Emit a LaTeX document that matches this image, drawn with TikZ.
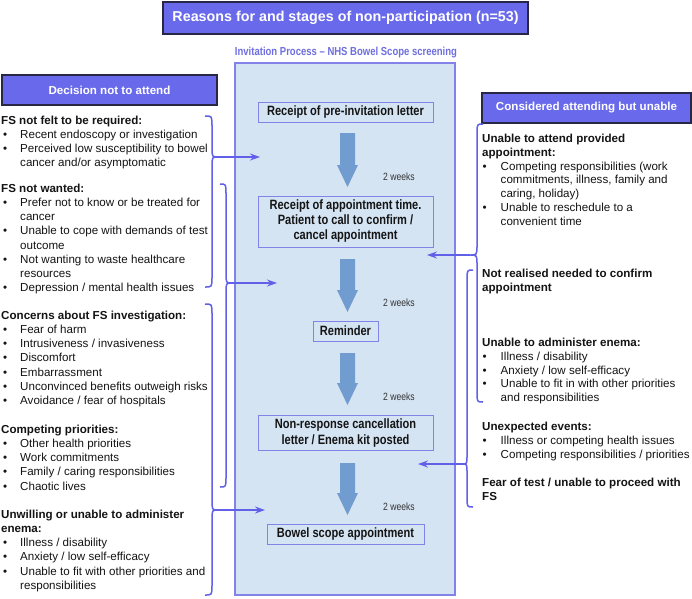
\documentclass[tikz,border=0pt]{standalone}
\usepackage{fontspec}
\setmainfont{Liberation Sans}
\newfontfamily\narrowfont[FakeStretch=0.82,Ligatures=TeX]{Liberation Sans}
\usetikzlibrary{arrows.meta}
\definecolor{headfill}{RGB}{105,105,236}
\definecolor{headdraw}{RGB}{40,40,70}
\definecolor{panelfill}{RGB}{213,228,243}
\definecolor{paneldraw}{RGB}{130,130,232}
\definecolor{blockfill}{RGB}{112,156,208}
\definecolor{linkcol}{RGB}{96,96,232}
\definecolor{capcol}{RGB}{110,110,224}
\definecolor{txt}{RGB}{20,20,20}
\newcommand\bulL{\makebox[19pt][l]{\hspace{2pt}•}}
\newcommand\indL{\makebox[19pt]{}}
\newcommand\bulR{\makebox[18.5pt][l]{\hspace{0.5pt}•}}
\newcommand\indR{\makebox[18.5pt]{}}
\newcommand\fstrut{\rule{0pt}{10pt}}
\newcommand\drawbrace[6]{% x0 xm xt yt ym yb
  \draw[bracel] (#1,#4) .. controls (#2,#4) .. (#2,{#4+10}) -- (#2,{#5-10})
    .. controls (#2,#5) .. (#3,#5) .. controls (#2,#5) .. (#2,{#5+10})
    -- (#2,{#6-10}) .. controls (#2,#6) .. (#1,#6);}
\newcommand\blockarrow[3]{% x ytop ytip
  \fill[blockfill] ({#1-7.5},#2) -- ({#1+7.5},#2) -- ({#1+7.5},{#3-22})
    -- ({#1+10.5},{#3-22}) -- (#1,#3) -- ({#1-10.5},{#3-22})
    -- ({#1-7.5},{#3-22}) -- cycle;}
\tikzset{
  headbox/.style={draw=headdraw, line width=1.2pt, fill=headfill, text=white,
    inner sep=0pt, font=\bfseries\fontsize{11.6}{14}\selectfont},
  stagebox/.style={draw=paneldraw, line width=1pt, fill=panelfill, inner sep=0pt,
    align=center, text=txt, font=\narrowfont\bfseries\fontsize{13.5}{15}\selectfont},
  grp/.style={anchor=north west, inner sep=0pt, align=left, text=txt,
    font=\fontsize{11.6}{14.2}\selectfont},
  grpr/.style={grp, font=\fontsize{11.6}{13.9}\selectfont},
  weeks/.style={anchor=west, inner sep=0pt, text=black!80,
    font=\narrowfont\fontsize{10.5}{12}\selectfont},
  link/.style={draw=linkcol, line width=1.5pt, -{Stealth[length=10pt,width=7pt]}},
  bracel/.style={draw=linkcol, line width=1.5pt},
}
\begin{document}
\begin{tikzpicture}[x=1pt,y=-1pt]
\useasboundingbox (0,0) rectangle (692,598);
\fill[white] (0,0) rectangle (692,598);

% title
\node[headbox, font=\bfseries\fontsize{14.3}{16}\selectfont,
  minimum width=365pt, minimum height=32pt] (title) at (345.5,18)
  {Reasons for and stages of non-participation (n=53)};

% panel
\node[draw=paneldraw, fill=panelfill, line width=1.5pt, inner sep=0pt,
  minimum width=220pt, minimum height=532pt] (panel) at (345,329) {};
\node[inner sep=0pt, text=capcol, font=\narrowfont\bfseries\fontsize{11.6}{14}\selectfont]
  (caption) at (346,53) {Invitation Process – NHS Bowel Scope screening};

% stages
\node[stagebox, minimum width=175pt, minimum height=20pt] (s1) at (345.5,112)
  {Receipt of pre-invitation letter};
\node[stagebox, minimum width=175pt, minimum height=51pt] (s2) at (345.5,221.5)
  {Receipt of appointment time.\\Patient to call to confirm /\\cancel appointment};
\node[stagebox, minimum width=65pt, minimum height=20pt] (s3) at (345.5,331)
  {Reminder};
\node[stagebox, font=\narrowfont\bfseries\fontsize{13.5}{16}\selectfont,
  minimum width=175pt, minimum height=35pt] (s4) at (345.5,432.5)
  {Non-response cancellation\\letter / Enema kit posted};
\node[stagebox, minimum width=157pt, minimum height=20pt] (s5) at (345.5,534)
  {Bowel scope appointment};

% block arrows
\blockarrow{347.5}{133}{187}
\blockarrow{347.5}{259}{312}
\blockarrow{347.5}{353}{405}
\blockarrow{347.5}{463}{515}
\node[weeks] (w1) at (383,177) {2 weeks};
\node[weeks] (w2) at (383,303) {2 weeks};
\node[weeks] (w3) at (383,397) {2 weeks};
\node[weeks] (w4) at (383,507) {2 weeks};

% headers
\node[headbox, minimum width=215pt, minimum height=30pt] (hleft) at (109.5,90)
  {Decision not to attend};
\node[headbox, minimum width=209pt, minimum height=30pt] (hright) at (586.5,108)
  {Considered attending but unable};

% left groups
\node[grp] (g1) at (1,114) {\fstrut\textbf{FS not felt to be required:}\\
  \bulL Recent endoscopy or investigation\\
  \bulL Perceived low susceptibility to bowel\\
  \indL cancer and/or asymptomatic};
\node[grp] (g2) at (1,182) {\fstrut\textbf{FS not wanted:}\\
  \bulL Prefer not to know or be treated for\\
  \indL cancer\\
  \bulL Unable to cope with demands of test\\
  \indL outcome\\
  \bulL Not wanting to waste healthcare\\
  \indL resources\\
  \bulL Depression / mental health issues};
\node[grp] (g3) at (1,309) {\fstrut\textbf{Concerns about FS investigation:}\\
  \bulL Fear of harm\\
  \bulL Intrusiveness / invasiveness\\
  \bulL Discomfort\\
  \bulL Embarrassment\\
  \bulL Unconvinced benefits outweigh risks\\
  \bulL Avoidance / fear of hospitals};
\node[grp] (g4) at (1,423) {\fstrut\textbf{Competing priorities:}\\
  \bulL Other health priorities\\
  \bulL Work commitments\\
  \bulL Family / caring responsibilities\\
  \bulL Chaotic lives};
\node[grp] (g5) at (1,508) {\fstrut\textbf{Unwilling or unable to administer}\\
  \textbf{enema:}\\
  \bulL Illness / disability\\
  \bulL Anxiety / low self-efficacy\\
  \bulL Unable to fit with other priorities and\\
  \indL responsibilities};

% right groups
\node[grpr] (r1) at (482,132) {\fstrut\textbf{Unable to attend provided}\\
  \textbf{appointment:}\\
  \bulR Competing responsibilities (work\\
  \indR commitments, illness, family and\\
  \indR caring, holiday)\\
  \bulR Unable to reschedule to a\\
  \indR convenient time};
\node[grpr] (r2) at (482,267) {\fstrut\textbf{Not realised needed to confirm}\\
  \textbf{appointment}};
\node[grpr] (r3) at (482,336) {\fstrut\textbf{Unable to administer enema:}\\
  \bulR Illness / disability\\
  \bulR Anxiety / low self-efficacy\\
  \bulR Unable to fit in with other priorities\\
  \indR and responsibilities};
\node[grpr] (r4) at (482,420) {\fstrut\textbf{Unexpected events:}\\
  \bulR Illness or competing health issues\\
  \bulR Competing responsibilities / priorities};
\node[grpr] (r5) at (482,476) {\fstrut\textbf{Fear of test / unable to proceed with}\\
  \textbf{FS}};

% braces (x0, xm, xt, ytop, ytip, ybottom)
\drawbrace{205}{212}{218}{116}{157}{287}
\drawbrace{220}{226}{232}{184}{283}{487}
\drawbrace{205}{212}{218}{304}{510}{595}
\drawbrace{483}{477}{470}{124}{255}{402}
\drawbrace{473}{467}{463}{270}{464}{507}

% connectors
\coordinate (l1tip) at (218,157);
\coordinate (l1end) at (260,157);
\coordinate (l2tip) at (232,283);
\coordinate (l2end) at (277,283);
\coordinate (l3tip) at (218,510);
\coordinate (l3end) at (265,510);
\coordinate (r1tip) at (470,255);
\coordinate (r1end) at (427,255);
\coordinate (r3tip) at (463,464);
\coordinate (r3end) at (418,464);
\draw[link] (l1tip) -- (l1end);
\draw[link] (l2tip) -- (l2end);
\draw[link] (l3tip) -- (l3end);
\draw[link] (r1tip) -- (r1end);
\draw[link] (r3tip) -- (r3end);
\end{tikzpicture}
\end{document}
